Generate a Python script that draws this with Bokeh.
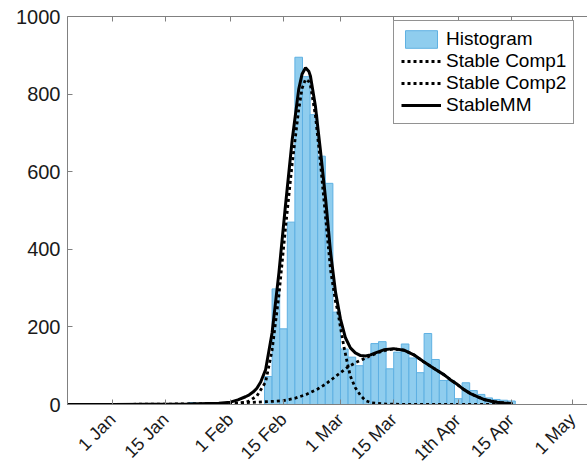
import math
from bokeh.plotting import figure
from bokeh.models import FixedTicker, LinearAxis, Range1d, Legend, LegendItem
from bokeh.embed import file_html
from bokeh.resources import INLINE

# x values are days counted from 1 Jan (2020)
tick_days = [0, 14, 31, 45, 60, 74, 91, 105, 121]
tick_labels = ["1 Jan", "15 Jan", "1 Feb", "15 Feb", "1 Mar", "15 Mar", "1th Apr", "15 Apr", "1 May"]
y_ticks = [0, 200, 400, 600, 800, 1000]

# histogram (2-day bins): left edge of each bin and its count
bin_start = [20, 40, 42, 44, 46, 48, 50, 52, 54, 56, 58, 60, 62, 64, 66, 68, 70, 72, 74,
             76, 78, 80, 82, 84, 86, 88, 90, 92, 94, 96, 98, 100, 102, 104]
counts = [5, 72, 298, 195, 470, 895, 845, 747, 640, 570, 238, 143, 122, 100, 118, 157, 162, 92, 135,
          156, 120, 82, 183, 116, 62, 62, 15, 56, 36, 26, 17, 13, 11, 9]
bin_width = 2

# StableMM (solid)
mm_x = [-12, 0, 10, 20, 28, 31, 33, 35, 36, 37, 38, 39, 40.3, 42.0, 43.8, 45.5, 47.3, 49.0, 49.9,
        50.8, 51.7, 52.1, 53.4, 54.7, 56.1, 57.4, 58.7, 60.0, 61.3, 62.6, 63.9, 65.3, 66.6, 67.9,
        69.2, 71.4, 74.0, 76.7, 79.3, 81.9, 84.6, 87.2, 88.9, 90.7, 92.4, 94.2, 96.0, 97.7, 99.5,
        101.2, 103.0, 105.3]
mm_y = [0, 0, 0.5, 1, 3, 6, 12, 20, 25, 32, 42, 58, 90, 185, 340, 511, 683, 812, 852,
        868, 858, 846, 769, 657, 528, 391, 289, 220, 172, 146, 133, 126, 125, 128,
        133, 141, 144, 140, 128, 110, 93, 77, 64, 52, 39, 28, 20, 13, 9,
        6, 4, 2]

# Stable Comp1 (dotted)
c1_x = [-12, 0, 20, 30, 33, 35, 36, 38, 40.3, 42.0, 43.8, 45.5, 47.3, 49.0, 49.9, 50.8, 51.7,
        52.1, 53.4, 54.7, 56.1, 57.4, 58.7, 59.2, 60.0, 60.9, 61.8, 62.6, 63.9, 65.3, 66.6, 68.3,
        72, 80, 105.3]
c1_y = [0, 0, 0, 1, 3, 6, 9, 22, 58, 140, 282, 452, 622, 760, 815, 838, 832,
        822, 745, 625, 480, 345, 265, 245, 198, 149, 107, 73, 43, 23, 10, 4,
        1, 0, 0]

# Stable Comp2 (dotted)
c2_x = [-12, 0, 10, 20, 28, 33, 38, 42, 45, 48, 51, 54, 56, 58, 60, 62, 64, 66, 68, 70, 72, 74,
        76.7, 79.3, 81.9, 84.6, 87.2, 88.9, 90.7, 92.4, 94.2, 96.0, 97.7, 99.5, 101.2, 103.0, 105.3]
c2_y = [0, 0.3, 0.8, 1.5, 2.5, 4, 6, 8, 10, 16, 26, 40, 52, 67, 82, 97, 108, 117, 126, 134, 140, 143,
        140, 128, 110, 93, 77, 64, 52, 39, 28, 20, 13, 9, 6, 4, 2]

FONT = "Liberation Sans"
AX = "#808080"
TXT = "#1a1a1a"

p = figure(width=587, height=474, output_backend="svg", toolbar_location=None,
           x_range=Range1d(-11.84, 125), y_range=Range1d(0, 1000),
           min_border_left=67, min_border_right=0, min_border_top=16, min_border_bottom=69,
           background_fill_color="white", border_fill_color="white")
p.outline_line_color = None
p.xgrid.visible = False
p.ygrid.visible = False

hist = p.quad(left=[b for b in bin_start], right=[b + bin_width for b in bin_start],
              bottom=0, top=counts, fill_color="#8fcdee", line_color="#5fb1e2", line_width=1)
r1 = p.line(c1_x, c1_y, line_color="black", line_width=2.8, line_dash="3 3")
r2 = p.line(c2_x, c2_y, line_color="black", line_width=2.8, line_dash="3 3")
r3 = p.line(mm_x, mm_y, line_color="black", line_width=3)

xa = p.xaxis[0]
xa.ticker = FixedTicker(ticks=tick_days)
xa.major_label_overrides = {d: l for d, l in zip(tick_days, tick_labels)}
xa.major_label_orientation = math.pi / 4
xa.major_label_text_font = FONT
xa.major_label_text_font_size = "18px"
xa.major_label_text_color = TXT
xa.major_label_standoff = 12
xa.axis_line_color = AX
xa.major_tick_line_color = AX
xa.major_tick_in = 5
xa.major_tick_out = 0
xa.minor_tick_line_color = None

ya = p.yaxis[0]
ya.ticker = FixedTicker(ticks=y_ticks)
ya.major_label_text_font = FONT
ya.major_label_text_font_size = "20px"
ya.major_label_text_color = TXT
ya.major_label_standoff = 7
ya.axis_line_color = AX
ya.major_tick_line_color = AX
ya.major_tick_in = 5
ya.major_tick_out = 0
ya.minor_tick_line_color = None

top = LinearAxis(ticker=FixedTicker(ticks=tick_days), major_label_text_font_size="0px",
                 major_label_standoff=0, axis_line_color=AX, major_tick_line_color=AX,
                 major_tick_in=5, major_tick_out=0, minor_tick_line_color=None)
top.major_label_text_color = None
p.add_layout(top, "above")

legend = Legend(items=[LegendItem(label="Histogram", renderers=[hist]),
                       LegendItem(label="Stable Comp1", renderers=[r1]),
                       LegendItem(label="Stable Comp2", renderers=[r2]),
                       LegendItem(label="StableMM", renderers=[r3])],
                location=(326, 280), margin=0, padding=7, spacing=0,
                glyph_width=40, glyph_height=22, label_height=22, label_standoff=5,
                label_text_font=FONT, label_text_font_size="19px", label_text_color="black",
                border_line_color="#262626", border_line_width=1,
                background_fill_color="white", background_fill_alpha=1)
p.add_layout(legend, "center")

open("out.html", "w").write(file_html(p, INLINE))
